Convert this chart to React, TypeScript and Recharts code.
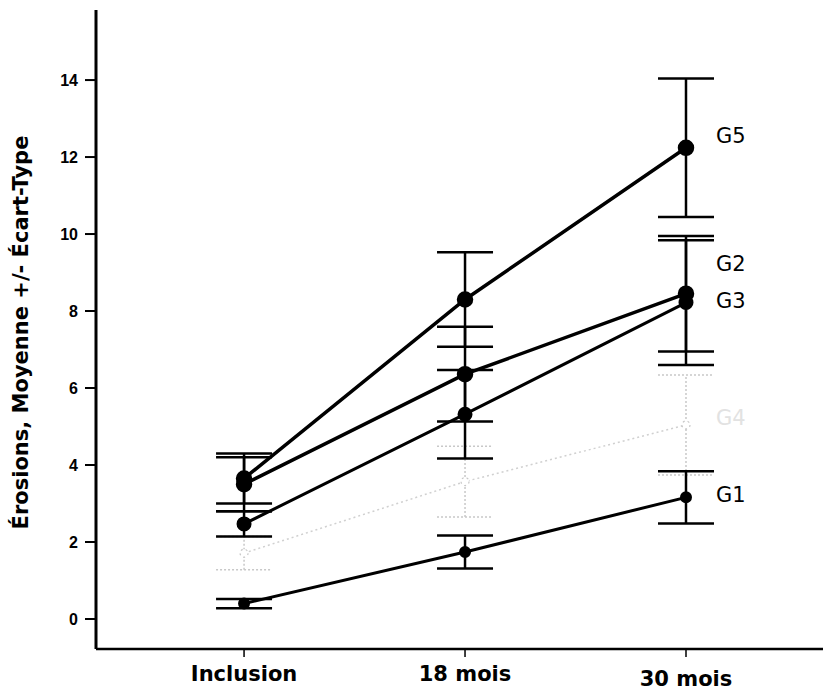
import React from 'react';
import { LineChart, Line, XAxis, YAxis, ErrorBar, LabelList } from 'recharts';

// Time points
const categories = ['Inclusion', '18 mois', '30 mois'];

// Mean erosion scores and standard deviations per group
const g1Mean = [0.40, 1.74, 3.16];
const g1Sd = [0.12, 0.43, 0.68];
const g2Mean = [3.50, 6.36, 8.45];
const g2Sd = [0.70, 1.23, 1.50];
const g3Mean = [2.47, 5.32, 8.22];
const g3Sd = [0.33, 1.15, 1.62];
const g4Mean = [1.71, 3.57, 5.04];
const g4Sd = [0.43, 0.92, 1.30];
const g5Mean = [3.65, 8.30, 12.24];
const g5Sd = [0.65, 1.23, 1.80];

const yTicks = [0, 2, 4, 6, 8, 10, 12, 14];

const data = categories.map((c, i) => ({
  x: i,
  name: c,
  g1: g1Mean[i], g1e: g1Sd[i],
  g2: g2Mean[i], g2e: g2Sd[i],
  g3: g3Mean[i], g3e: g3Sd[i],
  g4: g4Mean[i], g4e: g4Sd[i],
  g5: g5Mean[i], g5e: g5Sd[i],
}));

const LABEL_FONT = '"DejaVu Sans", "Liberation Sans", Arial, sans-serif';
const TICK_FONT = '"Liberation Sans", Arial, sans-serif';

// Extra vertical shift for each x tick label
const xTickShift = [0, 0, 5];

const XTick = (props: any) => {
  const { x, y, payload } = props;
  const i = payload.value as number;
  return (
    <text
      x={x}
      y={y + 22 + (xTickShift[i] || 0)}
      textAnchor="middle"
      fontFamily={LABEL_FONT}
      fontWeight="bold"
      fontSize={21}
      fill="#000"
    >
      {categories[i]}
    </text>
  );
};

// Series name written to the right of the last point
const endLabel = (text: string, dy: number, color: string) => (props: any) => {
  const { x, y, index } = props;
  if (index !== categories.length - 1) return null;
  return (
    <text x={x + 30} y={y + dy} fontFamily={LABEL_FONT} fontSize={21} fill={color}>
      {text}
    </text>
  );
};

const YLabel = (props: any) => {
  const vb = props.viewBox || {};
  const cx = (vb.x || 0) + 21;
  const cy = (vb.y || 0) + (vb.height || 0) / 2 + 3;
  return (
    <text
      x={cx}
      y={cy}
      transform={`rotate(-90, ${cx}, ${cy})`}
      textAnchor="middle"
      dominantBaseline="central"
      fontFamily={LABEL_FONT}
      fontWeight="bold"
      fontSize={21}
      fill="#000"
    >
      Érosions, Moyenne +/- Écart-Type
    </text>
  );
};

export default function App() {
  return (
    <div style={{ position: 'absolute', left: 0, top: 0, background: '#fff' }}>
      <LineChart
        width={823}
        height={694}
        data={data}
        margin={{ top: 10, right: 0, bottom: 0, left: 0 }}
      >
        <XAxis
          dataKey="x"
          type="number"
          domain={[-0.67, 2.62]}
          allowDataOverflow
          ticks={[0, 1, 2]}
          height={45}
          tickSize={8}
          tick={<XTick />}
          axisLine={{ stroke: '#000', strokeWidth: 2.5 }}
          tickLine={{ stroke: '#000', strokeWidth: 1.5 }}
        />
        <YAxis
          type="number"
          domain={[-0.78, 15.82]}
          allowDataOverflow
          ticks={yTicks}
          width={96}
          tickSize={11}
          tickMargin={7}
          tick={{ fontFamily: TICK_FONT, fontSize: 16, fill: '#000', fontWeight: 'bold' }}
          axisLine={{ stroke: '#000', strokeWidth: 3 }}
          tickLine={{ stroke: '#000', strokeWidth: 2 }}
          label={<YLabel />}
        />
        <Line
          dataKey="g4"
          stroke="#d0d0d0"
          strokeWidth={1.5}
          strokeDasharray="2 3"
          dot={{ r: 4, fill: '#fff', stroke: '#c8c8c8', strokeWidth: 1.2 }}
          isAnimationActive={false}
        >
          <ErrorBar dataKey="g4e" direction="y" width={28} stroke="#c8c8c8" strokeWidth={1.5} strokeDasharray="2 2" />
          <LabelList dataKey="g4" content={endLabel('G4', 0, '#e2e2e2')} />
        </Line>
        <Line
          dataKey="g1"
          stroke="#000"
          strokeWidth={3}
          dot={{ r: 4.5, fill: '#000', stroke: '#000' }}
          isAnimationActive={false}
        >
          <ErrorBar dataKey="g1e" direction="y" width={28} stroke="#000" strokeWidth={2.5} />
          <LabelList dataKey="g1" content={endLabel('G1', 5, '#000')} />
        </Line>
        <Line
          dataKey="g3"
          stroke="#000"
          strokeWidth={3}
          dot={{ r: 6, fill: '#000', stroke: '#000' }}
          isAnimationActive={false}
        >
          <ErrorBar dataKey="g3e" direction="y" width={28} stroke="#000" strokeWidth={2.5} />
          <LabelList dataKey="g3" content={endLabel('G3', 5, '#000')} />
        </Line>
        <Line
          dataKey="g2"
          stroke="#000"
          strokeWidth={3.5}
          dot={{ r: 6.5, fill: '#000', stroke: '#000' }}
          isAnimationActive={false}
        >
          <ErrorBar dataKey="g2e" direction="y" width={28} stroke="#000" strokeWidth={2.5} />
          <LabelList dataKey="g2" content={endLabel('G2', -23, '#000')} />
        </Line>
        <Line
          dataKey="g5"
          stroke="#000"
          strokeWidth={3.5}
          dot={{ r: 6.5, fill: '#000', stroke: '#000' }}
          isAnimationActive={false}
        >
          <ErrorBar dataKey="g5e" direction="y" width={28} stroke="#000" strokeWidth={2.5} />
          <LabelList dataKey="g5" content={endLabel('G5', -5, '#000')} />
        </Line>
      </LineChart>
    </div>
  );
}
